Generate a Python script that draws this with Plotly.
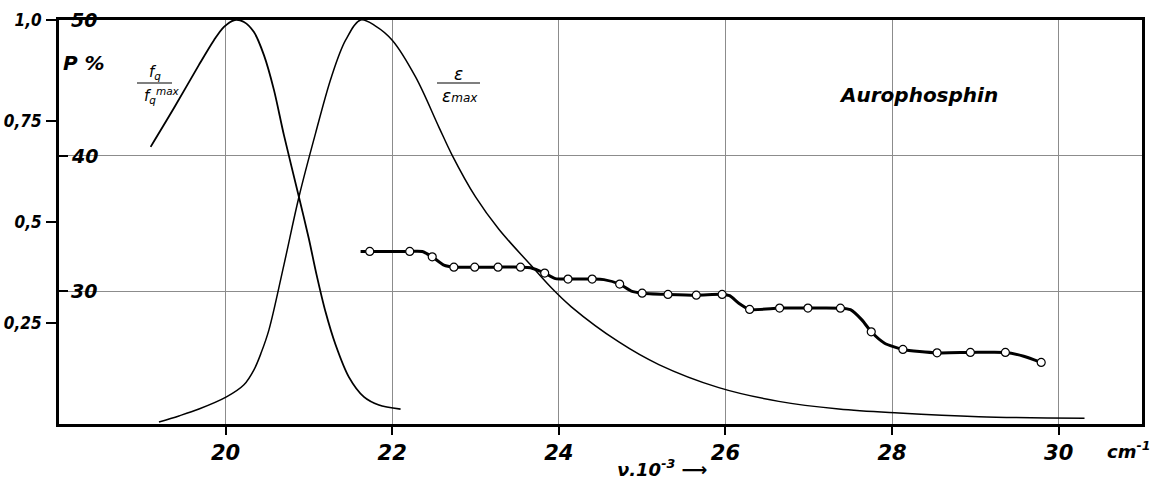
import plotly.graph_objects as go

# ---------------- data ----------------
# wavenumber axis nu*10^-3 (cm^-1)
x_ticks = [20, 22, 24, 26, 28, 30]
norm_tickvals = [0.25, 0.5, 0.75, 1.0]
norm_ticktext = ["0,25", "0,5", "0,75", "1,0"]
p_tickvals = [30, 40, 50]
p_ticktext = ["30", "40", "50"]

# fluorescence f_q / f_q max (normalized axis)
fluor_x = [19.10, 19.38, 19.68, 19.86, 19.98, 20.11, 20.22, 20.34, 20.46, 20.58,
           20.70, 20.88, 21.00, 21.09, 21.20, 21.32, 21.48, 21.66, 21.84, 22.10]
fluor_y = [0.686, 0.782, 0.889, 0.950, 0.983, 1.000, 0.995, 0.970, 0.913, 0.827,
           0.715, 0.562, 0.458, 0.371, 0.277, 0.196, 0.116, 0.067, 0.047, 0.037]

# absorption epsilon / epsilon max (normalized axis)
eps_x = [19.20, 19.44, 19.68, 20.01, 20.22, 20.34, 20.43, 20.52, 20.70, 20.88,
         21.08, 21.27, 21.44, 21.62, 21.80, 22.00, 22.28, 22.56, 22.72,
         23.00, 23.28, 23.66, 23.91, 24.15, 24.72, 25.20, 25.92, 26.64, 27.36,
         28.08, 29.04, 30.31]
eps_y = [0.005, 0.020, 0.037, 0.067, 0.097, 0.134, 0.178, 0.233, 0.394, 0.562,
         0.720, 0.859, 0.950, 1.000, 0.985, 0.950, 0.859, 0.735, 0.665,
         0.562, 0.482, 0.394, 0.337, 0.290, 0.203, 0.147, 0.090, 0.056, 0.037,
         0.027, 0.018, 0.014]

# polarization P % : measured points (open circles)
pol_x = [21.73, 22.21, 22.48, 22.74, 22.99, 23.27, 23.54, 23.83, 24.11, 24.40,
         24.73, 25.00, 25.31, 25.65, 25.96, 26.29, 26.65, 26.99, 27.38, 27.75,
         28.13, 28.54, 28.94, 29.36, 29.79]
pol_p = [32.93, 32.93, 32.53, 31.77, 31.77, 31.77, 31.77, 31.33, 30.89, 30.89,
         30.52, 29.85, 29.76, 29.70, 29.76, 28.65, 28.75, 28.75, 28.74, 27.00,
         25.70, 25.45, 25.48, 25.48, 24.74]

# polarization drawn curve (stepped, passes through the measured points)
pol_curve_x = [21.62, 21.73, 22.21, 22.36, 22.48, 22.62, 22.74, 22.99, 23.27, 23.54,
               23.66, 23.83, 23.96, 24.11, 24.40, 24.54, 24.73, 24.87, 25.00, 25.31,
               25.65, 25.96, 26.05, 26.16, 26.29, 26.65, 26.99, 27.38, 27.50, 27.64,
               27.75, 27.91, 28.13, 28.54, 28.94, 29.36, 29.58, 29.79]
pol_curve_p = [32.93, 32.93, 32.93, 32.92, 32.53, 31.92, 31.77, 31.77, 31.77, 31.77,
               31.73, 31.33, 30.92, 30.89, 30.89, 30.85, 30.52, 30.00, 29.85, 29.76,
               29.70, 29.76, 29.67, 29.11, 28.65, 28.75, 28.75, 28.74, 28.63, 27.86,
               27.00, 26.16, 25.70, 25.45, 25.48, 25.48, 25.20, 24.74]

# ---------------- layout helpers ----------------
W, H = 1163, 487
L, R, T, B = 59, 1142, 20, 424


def px(xp):
    return (xp - L) / (R - L)


def py(yp):
    return (B - yp) / (B - T)


FONT = "DejaVu Sans"
FONT_C = "DejaVu Sans Condensed, DejaVu Sans"

fig = go.Figure()

fig.add_trace(go.Scatter(x=fluor_x, y=fluor_y, mode="lines", yaxis="y",
                         line=dict(color="black", width=1.8, shape="spline", smoothing=0.8),
                         showlegend=False, hoverinfo="skip"))
fig.add_trace(go.Scatter(x=eps_x, y=eps_y, mode="lines", yaxis="y",
                         line=dict(color="black", width=1.5, shape="spline", smoothing=1.0),
                         showlegend=False, hoverinfo="skip"))
fig.add_trace(go.Scatter(x=pol_curve_x, y=pol_curve_p, mode="lines", yaxis="y2",
                         line=dict(color="black", width=3, shape="spline", smoothing=0.6),
                         showlegend=False, hoverinfo="skip"))
fig.add_trace(go.Scatter(x=pol_x, y=pol_p, mode="markers", yaxis="y2",
                         marker=dict(symbol="circle", size=8, color="white",
                                     line=dict(color="black", width=1.2)),
                         showlegend=False, hoverinfo="skip"))

fig.update_layout(
    width=W, height=H,
    margin=dict(l=L, r=W - R, t=T, b=H - B),
    paper_bgcolor="white", plot_bgcolor="white",
    font=dict(family=FONT, color="black"),
    xaxis=dict(range=[18, 31], tickvals=x_ticks, ticktext=[str(v) for v in x_ticks],
               ticks="outside", ticklen=8, tickwidth=2, tickcolor="black",
               showline=True, linewidth=3, linecolor="black", mirror=True,
               showgrid=True, gridcolor="#8c8c8c", gridwidth=1, zeroline=False,
               automargin=False,
               tickfont=dict(size=21, weight="bold", style="italic", family=FONT,
                             color="black")),
    yaxis=dict(range=[0, 1], tickvals=norm_tickvals, ticktext=norm_ticktext,
               ticks="outside", ticklen=10, tickwidth=2, tickcolor="black",
               showline=True, linewidth=3, linecolor="black", mirror=True,
               showgrid=False, zeroline=False, ticklabelstandoff=1, automargin=False,
               tickfont=dict(size=17, weight="bold", style="italic", family=FONT_C,
                             color="black")),
    yaxis2=dict(range=[20.2, 50], tickvals=p_tickvals,
                overlaying="y", side="left", anchor="x",
                ticks="inside", ticklen=9, tickwidth=2, tickcolor="black",
                showticklabels=False, automargin=False,
                showline=False, showgrid=True, gridcolor="#8c8c8c", gridwidth=1,
                zeroline=False),
)

# P % tick labels (drawn on the inner side of the axis, at the P tick values)
for v, t in zip(p_tickvals, p_ticktext):
    fig.add_annotation(text=t, x=px(69), y=v, xref="paper", yref="y2",
                       showarrow=False, xanchor="left", yanchor="middle",
                       font=dict(family=FONT, size=19, weight="bold", style="italic",
                                 color="black"))

ann = [
    dict(text="P %", x=px(84), y=py(63), size=20, weight="bold"),
    dict(text="f<sub>q</sub>", x=px(155), y=py(72), size=15, weight="normal"),
    dict(text="f<sub>q</sub><sup>max</sup>", x=px(162), y=py(96), size=15, weight="normal"),
    dict(text="ε", x=px(458), y=py(74), size=17, weight="normal"),
    dict(text="ε<span style='font-size:12px'>max</span>", x=px(460), y=py(96), size=17, weight="normal"),
    dict(text="Aurophosphin", x=px(918), y=py(95), size=20, weight="bold"),
    dict(text="cm<sup>-1</sup>", x=px(1128), y=py(450), size=18, weight="bold"),
    dict(text="ν.10<sup>-3</sup> ⟶", x=px(662), y=py(468), size=18, weight="bold"),
]
for a in ann:
    fig.add_annotation(text=a["text"], x=a["x"], y=a["y"], xref="paper", yref="paper",
                       showarrow=False, xanchor="center", yanchor="middle",
                       font=dict(family=FONT, size=a["size"], weight=a["weight"],
                                 style="italic", color="black"))

# fraction bars
fig.add_shape(type="line", xref="paper", yref="paper", x0=px(137), x1=px(172),
              y0=py(83), y1=py(83), line=dict(color="black", width=1.2))
fig.add_shape(type="line", xref="paper", yref="paper", x0=px(437), x1=px(480),
              y0=py(83), y1=py(83), line=dict(color="black", width=1.2))

fig.write_html("out.html")
